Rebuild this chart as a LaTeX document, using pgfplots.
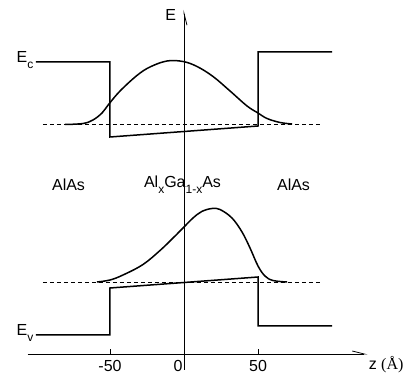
\documentclass[border=0pt]{standalone}
\usepackage{pgfplots}
\pgfplotsset{compat=1.18}
\usepackage{fontspec}
\setmainfont{Liberation Sans}
\newfontfamily\serif{Liberation Serif}
\usetikzlibrary{arrows.meta}
\tikzset{lab/.style={font=\fontsize{16}{19}\selectfont, inner sep=1pt}}
\newcommand{\sub}[1]{\raisebox{-0.7ex}{\fontsize{12}{14}\selectfont #1}}
\begin{document}
\begin{tikzpicture}
\begin{axis}[
  hide axis, scale only axis,
  width=409pt, height=374pt,
  xmin=-124.3, xmax=152.0, ymin=-20, ymax=354,
  clip=false,
]
% bounding
\addplot[draw=none] coordinates {(-124.3,-20) (152,354)};
% axes
\addplot[black, line width=0.8pt, -{Straight Barb[left,length=12pt,width=6pt]}] coordinates {(-105.7,0) (124,0)};
\addplot[black, line width=0.8pt, -{Straight Barb[right,length=12pt,width=6pt]}] coordinates {(0,-16) (0,344)};
\addplot[black, line width=0.8pt] coordinates {(-50,0) (-50,5)};
\addplot[black, line width=0.8pt] coordinates {(50,0) (50,5)};
% dashed reference levels
\addplot[black, line width=0.6pt, dash pattern=on 4pt off 3pt] coordinates {(-95.3,230) (93.2,230)};
\addplot[black, line width=0.6pt, dash pattern=on 4pt off 3pt] coordinates {(-95.3,72) (93.2,72)};
% conduction band
\addplot[black, line width=1.5pt] coordinates {(-100,292) (-50,292) (-50,217) (50,228) (50,302) (100,302)};
% valence band
\addplot[black, line width=1.5pt] coordinates {(-100,19) (-50,19) (-50,66) (50,77) (50,28) (100,28)};
% conduction wavefunction
\addplot[black, line width=1.5pt, smooth, tension=0.6] coordinates {
(-80.4,229.5) (-68.2,230.5) (-61.5,234) (-55.4,241) (-50.7,250) (-43.2,263) (-31.8,278.5)
(-23,287) (-11.5,293) (-0.7,292.5) (8.8,287.5) (19.6,277.5) (31.1,263) (42.6,248)
(50,241) (56.1,235.5) (64.9,231.5) (73,230)};
% valence wavefunction
\addplot[black, line width=1.5pt, smooth, tension=0.6] coordinates {
(-58.8,72) (-50,74) (-41.2,79) (-27.7,89.5) (-16.2,103.5) (-7.4,116) (0,127)
(6.1,136) (12,142.5) (18.9,145.5) (24.3,144.5) (32.4,136) (39.2,122) (44.6,106)
(50,88) (54.7,78) (60.1,73.5) (69.6,72)};
% labels
\node[lab, anchor=east] at (axis cs:-101,294) {E\sub{c}};
\node[lab, anchor=east] at (axis cs:-101,21) {E\sub{v}};
\node[lab] at (axis cs:-9,339) {E};
\node[lab] at (axis cs:-78,169) {AlAs};
\node[lab] at (axis cs:-1,169) {Al\sub{x}Ga\sub{1-x}As};
\node[lab] at (axis cs:74,169) {AlAs};
\node[lab] at (axis cs:-50,-12) {-50};
\node[lab] at (axis cs:-4,-12) {0};
\node[lab] at (axis cs:50,-12) {50};
\node[lab, anchor=west] at (axis cs:124,-11) {z {\serif(Å)}};
\end{axis}
\end{tikzpicture}
\end{document}
